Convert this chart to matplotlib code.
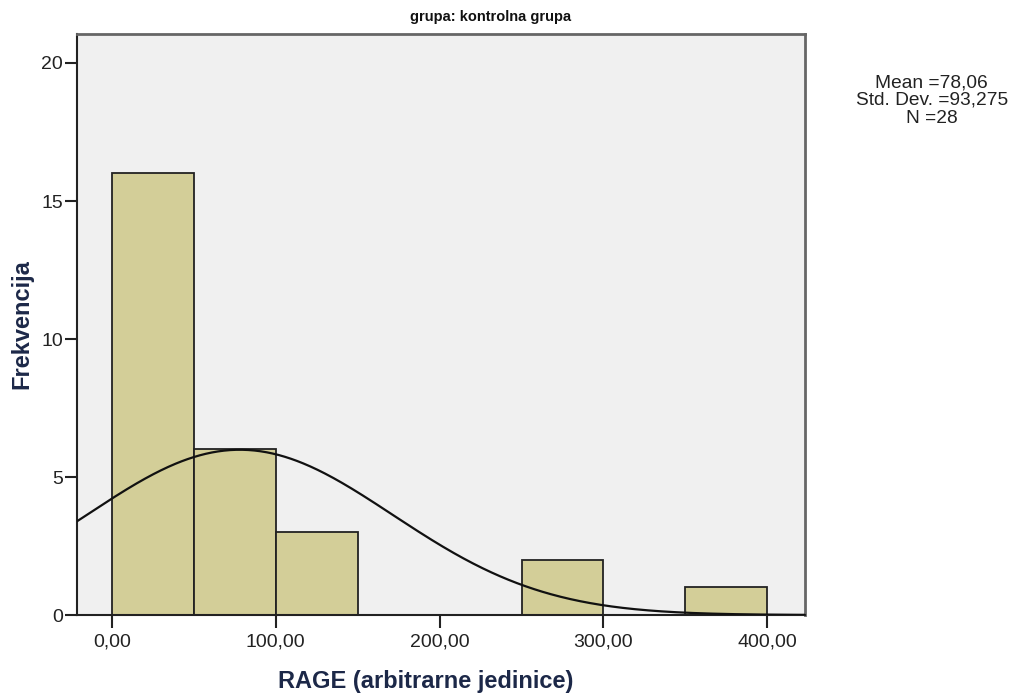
import numpy as np
import matplotlib
matplotlib.use("Agg")
import matplotlib.pyplot as plt

plt.rcParams['font.family'] = ['Liberation Sans', 'DejaVu Sans']

bin_left = [0, 50, 100, 150, 200, 250, 300, 350]
counts = [16, 6, 3, 0, 0, 2, 0, 1]
bin_width = 50
mean_val = 78.06
std_val = 93.275
n_val = 28
x_ticks = [0, 100, 200, 300, 400]
x_tick_labels = ["0,00", "100,00", "200,00", "300,00", "400,00"]
y_ticks = [0, 5, 10, 15, 20]

fig = plt.figure(figsize=(10.14, 6.97), dpi=100)
ax = fig.add_axes([0.0759, 0.1176, 0.7180, 0.8336])
ax.set_facecolor('#F0F0F0')

ax.bar(bin_left, counts, width=bin_width, align='edge', color='#D3CE98',
       edgecolor='#222222', linewidth=1.3, zorder=2)

xs = np.linspace(-21.3, 423, 600)
ys = n_val * bin_width / (std_val * np.sqrt(2 * np.pi)) * np.exp(-0.5 * ((xs - mean_val) / std_val) ** 2)
ax.plot(xs, ys, color='#111111', linewidth=1.6, zorder=3)

ax.set_xlim(-21.3, 423)
ax.set_ylim(0, 21.05)
ax.set_xticks(x_ticks)
ax.set_xticklabels(x_tick_labels)
ax.set_yticks(y_ticks)
ax.tick_params(axis='both', direction='out', length=9, width=1.5, color='#222222',
               labelsize=14, labelcolor='#222222')
ax.tick_params(axis='x', pad=4)
ax.tick_params(axis='y', pad=1)

for s in ['left', 'bottom']:
    ax.spines[s].set_color('#222222')
    ax.spines[s].set_linewidth(1.5)
for s in ['top', 'right']:
    ax.spines[s].set_color('#666666')
    ax.spines[s].set_linewidth(2)

ax.set_xlabel('RAGE (arbitrarne jedinice)', fontsize=17, fontweight='bold',
              color='#1c2848')
ax.xaxis.set_label_coords(0.479, -0.115)
ax.xaxis.label.set_va('center')
ax.set_ylabel('Frekvencija', fontsize=17, fontweight='bold', color='#1c2848', labelpad=6)
fig.text(0.484, 0.975, 'grupa: kontrolna grupa', ha='center', va='center',
         fontsize=10.5, fontweight='bold', color='#111111')

fig.text(0.919, 0.856,
         f"Mean ={mean_val:.2f}".replace('.', ',') + "\n"
         + "Std. Dev. =" + f"{std_val:.3f}".replace('.', ',') + "\n"
         + f"N ={n_val}",
         ha='center', va='center', fontsize=13.8, color='#222222', linespacing=1.05)

fig.savefig('out.png', dpi=100)
